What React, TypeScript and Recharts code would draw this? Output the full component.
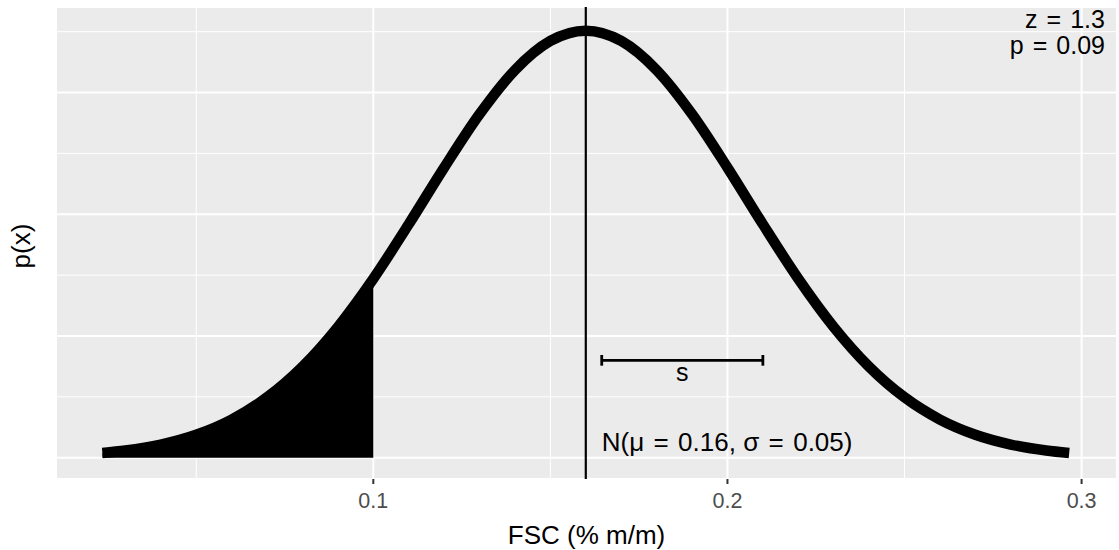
import {
  ComposedChart,
  Area,
  Line,
  XAxis,
  YAxis,
  CartesianGrid,
  ReferenceLine,
  ReferenceDot,
} from "recharts";

// fsc values (% m/m) and the density
const FSC = [
  0.0235, 0.03, 0.04, 0.05, 0.06, 0.07, 0.08, 0.09, 0.1, 0.11, 0.12, 0.13,
  0.14, 0.15, 0.16, 0.17, 0.18, 0.19, 0.2, 0.21, 0.22, 0.23, 0.24, 0.25, 0.26,
  0.27, 0.28, 0.29, 0.2965,
];
const DENSITY = [
  0.097, 0.148, 0.271, 0.472, 0.784, 1.24, 1.869, 2.686, 3.676, 4.795, 5.959,
  7.057, 7.962, 8.56, 8.77, 8.56, 7.962, 7.057, 5.959, 4.795, 3.676, 2.686,
  1.869, 1.24, 0.784, 0.472, 0.271, 0.148, 0.097,
];
const TAIL_END = 0.1;
const MEAN = 0.16;
const SD_BAR = [0.1645, 0.21];
const SD_BAR_Y = 2.0;

const X_MAJOR = [0.1, 0.2, 0.3];
const X_MINOR = [0.05, 0.15, 0.25];
const Y_MAJOR = [0, 2.5, 5, 7.5];
const Y_MINOR = [1.25, 3.75, 6.25, 8.75];
const X_DOMAIN = [0.0104, 0.31];
const Y_DOMAIN = [-0.4375, 9.257];

const FONT = '"Liberation Sans", Arial, Helvetica, sans-serif';
// plotmath puts a bit more room round "=" than a plain space
const EQ = "\u00A0\u200A=\u200A\u00A0";

const rows = FSC.map((x, i) => ({
  x,
  p: DENSITY[i],
  tail: x <= TAIL_END ? DENSITY[i] : null,
}));

function note(text: string, anchor: "start" | "middle" | "end", size = 25) {
  return (props: any) => {
    const vb = props.viewBox || {};
    return (
      <text
        x={vb.x}
        y={vb.y}
        textAnchor={anchor}
        fontSize={size}
        fontFamily={FONT}
        fill="#000"
      >
        {text}
      </text>
    );
  };
}

const yTitle = (props: any) => {
  const vb = props.viewBox || {};
  const cy = vb.y + vb.height / 2 + 3;
  return (
    <text
      x={30}
      y={cy}
      transform={`rotate(-90, 30, ${cy})`}
      textAnchor="middle"
      fontSize={26}
      fontFamily={FONT}
      fill="#000"
    >
      p(x)
    </text>
  );
};

export default function App() {
  return (
    <div style={{ position: "absolute", left: 0, top: 0, background: "#fff" }}>
      <ComposedChart
        width={1119}
        height={550}
        data={rows}
        margin={{ top: 7, right: 2, bottom: 0, left: 0 }}
      >
        <XAxis
          xAxisId="minor"
          type="number"
          dataKey="x"
          domain={X_DOMAIN}
          ticks={X_MINOR}
          allowDataOverflow
          hide
        />
        <YAxis
          yAxisId="minor"
          type="number"
          domain={Y_DOMAIN}
          ticks={Y_MINOR}
          allowDataOverflow
          hide
        />
        <XAxis
          xAxisId="major"
          type="number"
          dataKey="x"
          domain={X_DOMAIN}
          ticks={X_MAJOR}
          allowDataOverflow
          height={71}
          axisLine={false}
          tickSize={5}
          tickMargin={9}
          tickLine={{ stroke: "#333333", strokeWidth: 2 }}
          tick={{ fill: "#4D4D4D", fontSize: 21.5, fontFamily: FONT }}
          label={{
            value: "FSC (% m/m)",
            position: "insideBottom",
            offset: 6,
            fill: "#000",
            fontSize: 26,
            fontFamily: FONT,
          }}
        />
        <YAxis
          yAxisId="major"
          type="number"
          domain={Y_DOMAIN}
          ticks={Y_MAJOR}
          allowDataOverflow
          width={56}
          axisLine={false}
          tickLine={false}
          tick={() => <g />}
          label={{ content: yTitle }}
        />
        <CartesianGrid
          xAxisId="minor"
          yAxisId="minor"
          fill="#EBEBEB"
          stroke="#FFFFFF"
          strokeWidth={1}
        />
        <CartesianGrid
          xAxisId="major"
          yAxisId="major"
          stroke="#FFFFFF"
          strokeWidth={2}
        />
        <Area
          xAxisId="major"
          yAxisId="major"
          dataKey="tail"
          type="monotone"
          baseValue={0}
          fill="#000"
          fillOpacity={1}
          stroke="none"
          isAnimationActive={false}
        />
        <Line
          xAxisId="major"
          yAxisId="major"
          dataKey="p"
          type="monotone"
          stroke="#000"
          strokeWidth={10.5}
          dot={false}
          activeDot={false}
          isAnimationActive={false}
        />
        <ReferenceLine
          xAxisId="major"
          yAxisId="major"
          x={MEAN}
          stroke="#000"
          strokeWidth={2.2}
        />
        <ReferenceLine
          xAxisId="major"
          yAxisId="major"
          segment={[
            { x: SD_BAR[0], y: SD_BAR_Y },
            { x: SD_BAR[1], y: SD_BAR_Y },
          ]}
          stroke="#000"
          strokeWidth={2.8}
        />
        {SD_BAR.map((bx) => (
          <ReferenceLine
            key={bx}
            xAxisId="major"
            yAxisId="major"
            segment={[
              { x: bx, y: SD_BAR_Y - 0.11 },
              { x: bx, y: SD_BAR_Y + 0.11 },
            ]}
            stroke="#000"
            strokeWidth={2.8}
          />
        ))}
        <ReferenceDot
          xAxisId="major"
          yAxisId="major"
          x={(SD_BAR[0] + SD_BAR[1]) / 2}
          y={1.575}
          r={0}
          fill="none"
          stroke="none"
          label={{ content: note("s", "middle") }}
        />
        <ReferenceDot
          xAxisId="major"
          yAxisId="major"
          x={SD_BAR[0]}
          y={0.14}
          r={0}
          fill="none"
          stroke="none"
          label={{ content: note(`N(μ${EQ}0.16, σ${EQ}0.05)`, "start", 26) }}
        />
        <ReferenceDot
          xAxisId="major"
          yAxisId="major"
          x={0.3066}
          y={8.82}
          r={0}
          fill="none"
          stroke="none"
          label={{ content: note(`z${EQ}1.3`, "end") }}
        />
        <ReferenceDot
          xAxisId="major"
          yAxisId="major"
          x={0.3066}
          y={8.285}
          r={0}
          fill="none"
          stroke="none"
          label={{ content: note(`p${EQ}0.09`, "end") }}
        />
      </ComposedChart>
    </div>
  );
}
